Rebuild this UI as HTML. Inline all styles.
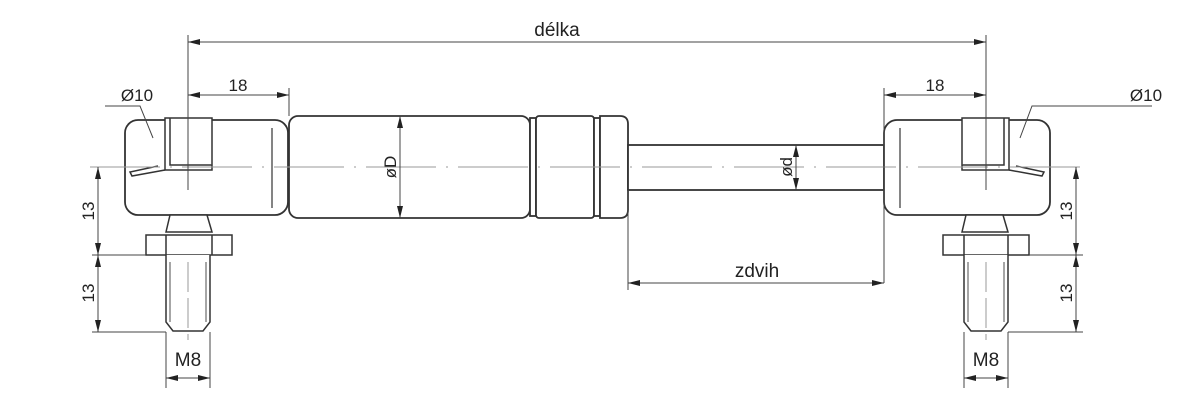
<!DOCTYPE html>
<html><head><meta charset="utf-8"><style>
html,body{margin:0;padding:0;background:#fff;width:1187px;height:407px;overflow:hidden}
svg{display:block}
text{font-family:"Liberation Sans",sans-serif;fill:#222}
</style></head><body>
<svg width="1187" height="407" viewBox="0 0 1187 407" xmlns="http://www.w3.org/2000/svg">
<defs>
<marker id="a" viewBox="0 0 12 6" refX="12" refY="3" markerWidth="12" markerHeight="6" orient="auto-start-reverse" markerUnits="userSpaceOnUse"><path d="M0,0 L12,3 L0,6 z" fill="#222"/></marker>
</defs>
<g stroke="#333" stroke-width="1.8" fill="#fff">
<rect x="125" y="120" width="163" height="95" rx="13"/>
<rect x="289" y="116" width="241" height="102" rx="9"/>
<rect x="530" y="118" width="6" height="98"/>
<rect x="536" y="116" width="58" height="102" rx="3"/>
<rect x="594" y="118" width="6" height="98"/>
<path d="M600,116 H620 Q628,116 628,124 V210 Q628,218 620,218 H600 Z"/>
<rect x="628" y="145" width="256" height="45"/>
<rect x="884" y="120" width="166" height="95" rx="13"/>
</g>
<g stroke="#333" stroke-width="1.5" fill="#fff">
<path d="M165,118 H212 V170 H165 Z"/>
<path d="M170,118 V165 H212"/>
<path d="M165,170 L132,176 L130,172 L158,166"/>
<path d="M170,215 L166,232 H212 L207,215 Z"/>
<rect x="146" y="235" width="86" height="20"/>
<line x1="166" y1="235" x2="166" y2="255"/><line x1="212" y1="235" x2="212" y2="255"/>
<path d="M166,255 V322 L173,331 H203 L210,322 V255"/>
<line x1="170" y1="262" x2="170" y2="322" stroke="#888"/><line x1="206" y1="262" x2="206" y2="322" stroke="#888"/>
<path d="M962,118 H1009 V170 H962 Z"/>
<path d="M962,165 H1004 V118"/>
<path d="M1009,170 L1042,176 L1044,172 L1016,166"/>
<path d="M966,215 L962,232 H1008 L1003,215 Z"/>
<rect x="943" y="235" width="86" height="20"/>
<line x1="964" y1="235" x2="964" y2="255"/><line x1="1008" y1="235" x2="1008" y2="255"/>
<path d="M964,255 V322 L971,331 H1001 L1008,322 V255"/>
<line x1="968" y1="262" x2="968" y2="322" stroke="#888"/><line x1="1004" y1="262" x2="1004" y2="322" stroke="#888"/>
</g>
<g stroke="#333" stroke-width="1.2">
<line x1="272" y1="128" x2="272" y2="208"/>
<line x1="900" y1="128" x2="900" y2="208"/>
</g>
<g stroke="#999" stroke-width="1" fill="none">
<line x1="90" y1="167" x2="1085" y2="167" stroke-dasharray="70,10,2,10"/>
<line x1="188" y1="262" x2="188" y2="340" stroke-dasharray="30,6"/>
<line x1="986" y1="262" x2="986" y2="340" stroke-dasharray="30,6"/>
</g>
<g stroke="#444" stroke-width="1" fill="none">
<line x1="188" y1="35" x2="188" y2="190"/>
<line x1="986" y1="35" x2="986" y2="190"/>
<line x1="188" y1="42" x2="986" y2="42" marker-start="url(#a)" marker-end="url(#a)"/>
<line x1="289" y1="88" x2="289" y2="116"/>
<line x1="188" y1="95" x2="289" y2="95" marker-start="url(#a)" marker-end="url(#a)"/>
<line x1="884" y1="88" x2="884" y2="283"/>
<line x1="884" y1="95" x2="986" y2="95" marker-start="url(#a)" marker-end="url(#a)"/>
<line x1="628" y1="190" x2="628" y2="290"/>
<line x1="628" y1="283" x2="884" y2="283" marker-start="url(#a)" marker-end="url(#a)"/>
<line x1="400" y1="116" x2="400" y2="218" marker-start="url(#a)" marker-end="url(#a)"/>
<line x1="796" y1="145" x2="796" y2="190" marker-start="url(#a)" marker-end="url(#a)"/>
<polyline points="105,106 140,106 153,138"/>
<polyline points="1152,106 1032,106 1020,138"/>
<line x1="92" y1="255" x2="146" y2="255"/>
<line x1="92" y1="332" x2="166" y2="332"/>
<line x1="98" y1="167" x2="98" y2="255" marker-start="url(#a)" marker-end="url(#a)"/>
<line x1="98" y1="255" x2="98" y2="332" marker-start="url(#a)" marker-end="url(#a)"/>
<line x1="1029" y1="255" x2="1083" y2="255"/>
<line x1="1008" y1="332" x2="1083" y2="332"/>
<line x1="1076" y1="167" x2="1076" y2="255" marker-start="url(#a)" marker-end="url(#a)"/>
<line x1="1076" y1="255" x2="1076" y2="332" marker-start="url(#a)" marker-end="url(#a)"/>
<line x1="166" y1="332" x2="166" y2="388"/><line x1="210" y1="332" x2="210" y2="388"/>
<line x1="166" y1="378" x2="210" y2="378" marker-start="url(#a)" marker-end="url(#a)"/>
<line x1="964" y1="332" x2="964" y2="388"/><line x1="1008" y1="332" x2="1008" y2="388"/>
<line x1="964" y1="378" x2="1008" y2="378" marker-start="url(#a)" marker-end="url(#a)"/>
</g>
<text x="557" y="36" font-size="19" text-anchor="middle">délka</text>
<text x="238" y="91" font-size="17" text-anchor="middle">18</text>
<text x="935" y="91" font-size="17" text-anchor="middle">18</text>
<text x="137" y="101" font-size="17" text-anchor="middle">Ø10</text>
<text x="1146" y="101" font-size="17" text-anchor="middle">Ø10</text>
<text x="757" y="277" font-size="19" text-anchor="middle">zdvih</text>
<text x="188" y="366" font-size="19" text-anchor="middle">M8</text>
<text x="986" y="366" font-size="19" text-anchor="middle">M8</text>
<text transform="translate(396,167) rotate(-90)" font-size="17" text-anchor="middle">øD</text>
<text transform="translate(792,167) rotate(-90)" font-size="17" text-anchor="middle">ød</text>
<text transform="translate(94,211) rotate(-90)" font-size="17" text-anchor="middle">13</text>
<text transform="translate(94,293) rotate(-90)" font-size="17" text-anchor="middle">13</text>
<text transform="translate(1072,211) rotate(-90)" font-size="17" text-anchor="middle">13</text>
<text transform="translate(1072,293) rotate(-90)" font-size="17" text-anchor="middle">13</text>
</svg>
</body></html>
